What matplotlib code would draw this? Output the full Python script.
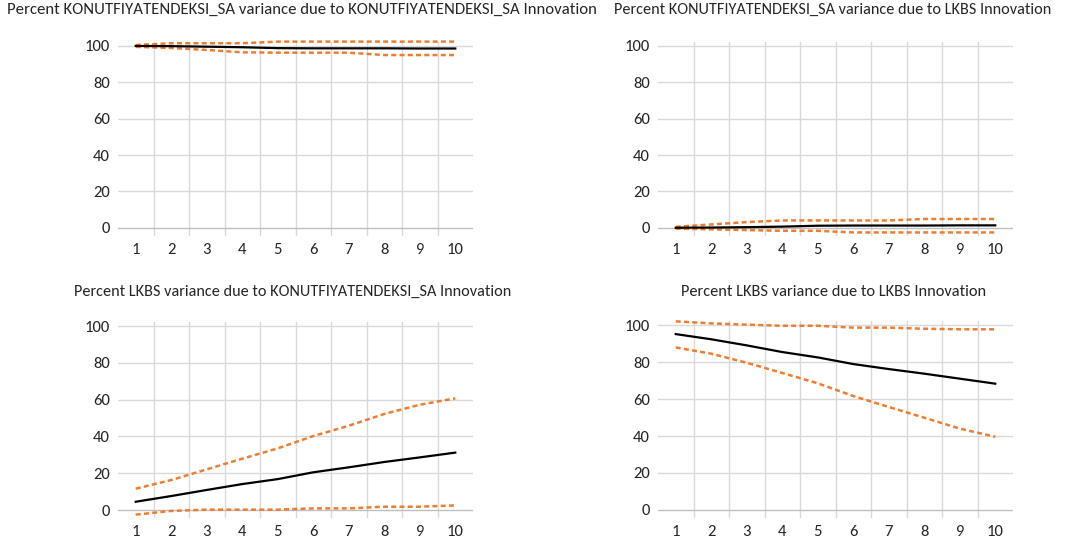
import matplotlib
matplotlib.use("Agg")
import matplotlib.pyplot as plt
from matplotlib import font_manager as fm

avail = {f.name for f in fm.fontManager.ttflist}
for cand in ["Carlito", "Liberation Sans Narrow", "Open Sans", "Lato"]:
    if cand in avail:
        FONT = cand
        break
else:
    FONT = "DejaVu Sans"
plt.rcParams['font.family'] = [FONT, 'DejaVu Sans']

periods = [1, 2, 3, 4, 5, 6, 7, 8, 9, 10]

titles = [
    "Percent KONUTFIYATENDEKSI_SA variance due to KONUTFIYATENDEKSI_SA Innovation",
    "Percent KONUTFIYATENDEKSI_SA variance due to LKBS Innovation",
    "Percent LKBS variance due to KONUTFIYATENDEKSI_SA Innovation",
    "Percent LKBS variance due to LKBS Innovation",
]

# Panel 1: KONUT due to KONUT
p1_mid = [100.0, 99.9, 99.6, 99.3, 98.8, 98.7, 98.7, 98.7, 98.6, 98.6]
p1_up = [100.5, 101.5, 101.5, 101.5, 102.4, 102.4, 102.4, 102.4, 102.4, 102.4]
p1_lo = [99.5, 98.9, 97.8, 96.5, 96.3, 96.3, 96.3, 95.0, 95.0, 95.0]

# Panel 2: KONUT due to LKBS
p2_mid = [0.0, 0.1, 0.3, 0.6, 1.1, 1.2, 1.2, 1.2, 1.3, 1.3]
p2_up = [0.5, 1.8, 3.1, 4.0, 4.0, 4.0, 4.0, 4.8, 4.8, 4.8]
p2_lo = [-0.5, -0.9, -1.3, -1.7, -1.7, -2.6, -2.6, -2.6, -2.6, -2.6]

# Panel 3: LKBS due to KONUT
p3_mid = [4.5, 7.6, 10.9, 14.1, 16.8, 20.5, 23.2, 26.1, 28.6, 31.2]
p3_up = [11.6, 16.3, 22.1, 27.9, 33.5, 40.2, 45.8, 52.2, 57.2, 60.7]
p3_lo = [-2.5, -0.5, 0.2, 0.2, 0.2, 0.9, 0.9, 1.8, 1.8, 2.5]

# Panel 4: LKBS due to LKBS
p4_mid = [95.1, 92.3, 89.0, 85.4, 82.5, 78.9, 76.2, 73.7, 71.0, 68.3]
p4_up = [102.0, 100.9, 100.2, 99.6, 99.6, 98.6, 98.6, 98.0, 97.7, 97.7]
p4_lo = [87.9, 84.5, 79.6, 74.1, 68.5, 61.6, 55.7, 49.9, 44.0, 39.6]

panels = [(p1_mid, p1_up, p1_lo), (p2_mid, p2_up, p2_lo),
          (p3_mid, p3_up, p3_lo), (p4_mid, p4_up, p4_lo)]

W, H = 1074, 541
fig = plt.figure(figsize=(W / 100, H / 100), dpi=100)
renderer = fig.canvas.get_renderer()

# axes boxes in pixels: (left, top, right, bottom)
boxes = [(118, 41.6, 473, 235.9), (658, 41.6, 1013, 235.9),
         (118, 321.6, 473, 518.3), (658, 320.6, 1013, 518.3)]
# title: (center x, center y, target width px)
title_pos = [(302, 10, 590), (833, 10, 438), (293, 292, 439), (834, 292, 307)]

ORANGE = "#ED7D31"
GRID = "#D9D9D9"
AXIS = "#BFBFBF"
TXT = "#262626"

for i, ((mid, up, lo), (l, t, r, b)) in enumerate(zip(panels, boxes)):
    ax = fig.add_axes([l / W, 1 - b / H, (r - l) / W, (b - t) / H])
    ax.set_xlim(0.5, 10.5)
    ax.set_ylim(-4.5, 102.4)
    for s in ax.spines.values():
        s.set_visible(False)
    for yv in [20, 40, 60, 80, 100]:
        ax.axhline(yv, color=GRID, lw=1, zorder=0)
    for xv in range(2, 11):
        ax.axvline(xv - 0.5, color=GRID, lw=1, zorder=0)
    ax.axhline(0, color=AXIS, lw=1, zorder=1)
    ax.plot(periods, up, color=ORANGE, lw=1.8, ls=(0, (2.0, 1.3)), clip_on=False, zorder=3)
    ax.plot(periods, lo, color=ORANGE, lw=1.8, ls=(0, (2.0, 1.3)), clip_on=False, zorder=3)
    ax.plot(periods, mid, color="black", lw=1.6, clip_on=False, zorder=4)
    ax.set_xticks(periods)
    ax.set_xticklabels([str(p) for p in periods])
    ax.set_yticks([0, 20, 40, 60, 80, 100])
    ax.tick_params(length=0, labelsize=12, labelcolor=TXT)
    ax.tick_params(axis='y', pad=6)
    ax.tick_params(axis='x', pad=5)
    tx, ty, tw = title_pos[i]
    txt = fig.text(tx / W, 1 - ty / H, titles[i], ha='center', va='center',
                   fontsize=10, color=TXT)
    w = txt.get_window_extent(renderer).width
    txt.set_fontsize(10 * tw / w)

fig.savefig("out.png", dpi=100)
